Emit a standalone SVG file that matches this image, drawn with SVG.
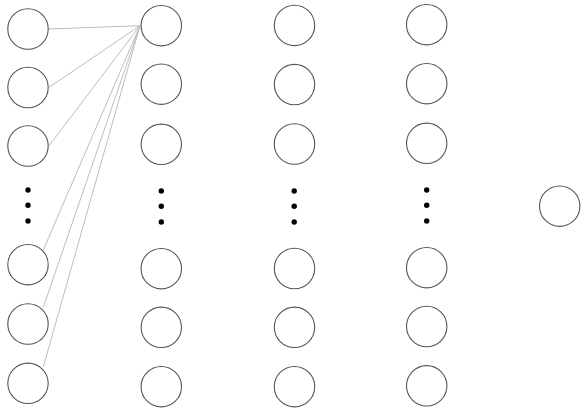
<svg xmlns="http://www.w3.org/2000/svg" width="587" height="413" viewBox="0 0 587 413">
<style>
.n{fill:#fff;stroke:#555;stroke-width:1.1}
.d{fill:#000}
.e{stroke:#bdbdbd;stroke-width:1;fill:none}
</style>
<rect width="587" height="413" fill="#fff"/>
<g id="connectors">
<line class="e" x1="140" y1="25.7" x2="49" y2="29"/>
<line class="e" x1="140" y1="25.7" x2="49" y2="87.4"/>
<line class="e" x1="140" y1="25.7" x2="49" y2="145.8"/>
<line class="e" x1="140" y1="25.7" x2="43.3" y2="250"/>
<line class="e" x1="140" y1="25.7" x2="43.3" y2="307.4"/>
<line class="e" x1="140" y1="25.7" x2="43.3" y2="366.8"/>
</g>
<g id="col1">
<circle id="a1" class="n" cx="28" cy="29" r="20.2"/>
<circle id="a2" class="n" cx="28" cy="87.5" r="20.2"/>
<circle id="a3" class="n" cx="28" cy="146" r="20.2"/>
<g id="a-dots"><circle class="d" cx="28" cy="190" r="2.7"/><circle class="d" cx="28" cy="205.3" r="2.7"/><circle class="d" cx="28" cy="221" r="2.7"/></g>
<circle id="a4" class="n" cx="28" cy="264.7" r="20.2"/>
<circle id="a5" class="n" cx="28" cy="324" r="20.2"/>
<circle id="a6" class="n" cx="28" cy="383.3" r="20.2"/>
</g>
<g id="col2">
<circle id="b1" class="n" cx="161.3" cy="25.7" r="20.2"/>
<circle id="b2" class="n" cx="161.3" cy="84.2" r="20.2"/>
<circle id="b3" class="n" cx="161.3" cy="144.3" r="20.2"/>
<g id="b-dots"><circle class="d" cx="161.3" cy="191" r="2.7"/><circle class="d" cx="161.3" cy="206.3" r="2.7"/><circle class="d" cx="161.3" cy="222" r="2.7"/></g>
<circle id="b4" class="n" cx="161.3" cy="268.7" r="20.2"/>
<circle id="b5" class="n" cx="161.3" cy="327.3" r="20.2"/>
<circle id="b6" class="n" cx="161.3" cy="386.7" r="20.2"/>
</g>
<g id="col3">
<circle id="c1" class="n" cx="294.5" cy="25.4" r="20.2"/>
<circle id="c2" class="n" cx="294.5" cy="84.6" r="20.2"/>
<circle id="c3" class="n" cx="294.5" cy="144" r="20.2"/>
<g id="c-dots"><circle class="d" cx="294.2" cy="191" r="2.7"/><circle class="d" cx="294.2" cy="206.3" r="2.7"/><circle class="d" cx="294.2" cy="222" r="2.7"/></g>
<circle id="c4" class="n" cx="294.5" cy="268.5" r="20.2"/>
<circle id="c5" class="n" cx="294.5" cy="327.3" r="20.2"/>
<circle id="c6" class="n" cx="294.5" cy="386.7" r="20.2"/>
</g>
<g id="col4">
<circle id="d1" class="n" cx="426.7" cy="24.7" r="20.2"/>
<circle id="d2" class="n" cx="426.7" cy="83.7" r="20.2"/>
<circle id="d3" class="n" cx="426.7" cy="143.3" r="20.2"/>
<g id="d-dots"><circle class="d" cx="426.7" cy="190" r="2.7"/><circle class="d" cx="426.7" cy="205.3" r="2.7"/><circle class="d" cx="426.7" cy="221" r="2.7"/></g>
<circle id="d4" class="n" cx="426.7" cy="267.7" r="20.2"/>
<circle id="d5" class="n" cx="426.7" cy="326.5" r="20.2"/>
<circle id="d6" class="n" cx="426.7" cy="385.8" r="20.2"/>
</g>
<g id="col5">
<circle id="out" class="n" cx="559.7" cy="206.2" r="20.2"/>
</g>
</svg>
